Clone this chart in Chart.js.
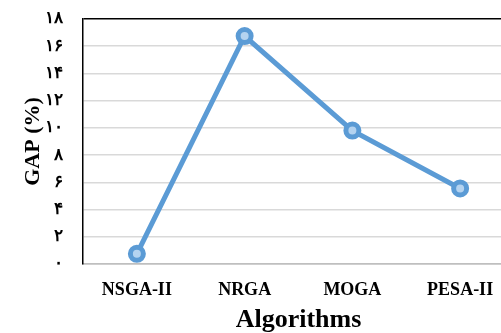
<!DOCTYPE html>
<html>
<head>
<meta charset="utf-8">
<script src="https://cdn.jsdelivr.net/npm/chart.js@4/dist/chart.umd.min.js"></script>
<style>
  html, body { margin: 0; padding: 0; background: #fff; overflow: hidden; }
  #wrap { width: 514px; height: 333px; }
</style>
</head>
<body>
<div id="wrap"><canvas id="gapChart" width="514" height="333"></canvas></div>
<script>
const algorithms = ["NSGA-II", "NRGA", "MOGA", "PESA-II"];
const gapValues = [0.75, 16.75, 9.8, 5.55];
const yTickLabels = ["۰", "۲", "۴", "۶", "۸", "۱۰", "۱۲", "۱۴", "۱۶", "۱۸"];

const serif = "'Liberation Serif', 'Times New Roman', 'DejaVu Serif', serif";

const ctx = document.getElementById("gapChart").getContext("2d");

new Chart(ctx, {
  type: "line",
  data: {
    labels: algorithms,
    datasets: [
      {
        label: "GAP (%)",
        data: gapValues,
        borderColor: "#5b9bd5",
        borderWidth: 5,
        pointRadius: 6.5,
        pointBorderWidth: 5,
        pointBackgroundColor: "#b4d3f0",
        pointBorderColor: "#5b9bd5",
        tension: 0,
        clip: false,
      },
    ],
  },
  options: {
    responsive: false,
    animation: false,
    layout: {
      autoPadding: false,
      padding: { top: 19, right: 0, bottom: 0, left: 0 },
    },
    plugins: {
      legend: { display: false },
      tooltip: { enabled: false },
    },
    scales: {
      x: {
        offset: true,
        grid: { display: false, offset: true },
        border: { color: "#bfbfbf", width: 1.5 },
        ticks: {
          color: "#000",
          padding: 8,
          maxRotation: 0,
          font: { family: serif, size: 18, weight: "bold" },
        },
        title: {
          display: true,
          text: "Algorithms",
          color: "#000",
          padding: { top: 4, bottom: 0 },
          font: { family: serif, size: 26, weight: "bold", lineHeight: 1 },
        },
        afterFit: (scale) => {
          scale.height = 69;
          scale.paddingLeft = 0;
          scale.paddingRight = 0;
        },
      },
      y: {
        min: 0,
        max: 18,
        grid: {
          drawTicks: false,
          lineWidth: 1.5,
          color: (c) => (c.index === 9 ? "#000" : c.index === 0 ? "#bfbfbf" : "#d9d9d9"),
        },
        border: { color: "#000", width: 1.5 },
        ticks: {
          stepSize: 2,
          color: "#000",
          padding: 20,
          font: { family: serif, size: 17, weight: "bold" },
          callback: (value) => yTickLabels[value / 2],
        },
        title: {
          display: true,
          text: "GAP (%)",
          color: "#000",
          padding: { top: 20, bottom: 0 },
          font: { family: serif, size: 22, weight: "bold" },
        },
        afterFit: (scale) => {
          scale.width = 83;
          scale.paddingTop = 0;
          scale.paddingBottom = 0;
        },
      },
    },
  },
});
</script>
</body>
</html>
